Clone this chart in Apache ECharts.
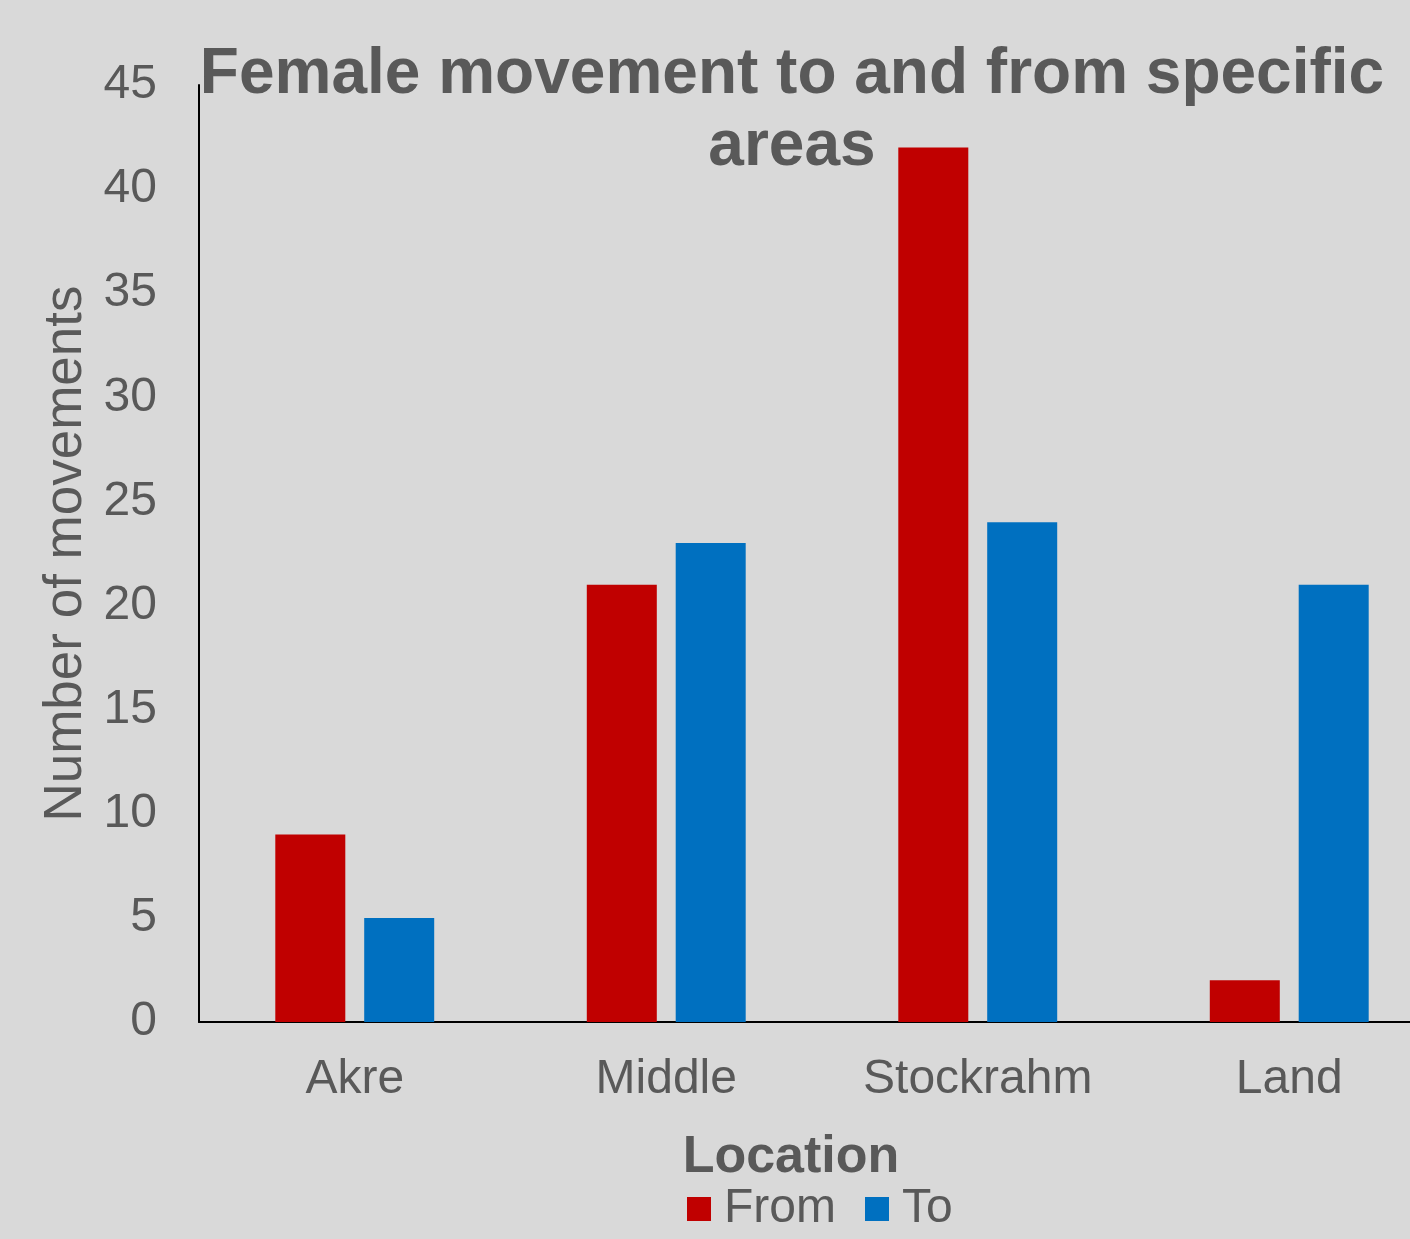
<!DOCTYPE html>
<html>
<head>
<meta charset="utf-8">
<script src="https://cdn.jsdelivr.net/npm/echarts@6/dist/echarts.min.js"></script>
<style>
  html, body { margin: 0; padding: 0; background: #d9d9d9; }
  #chart { width: 1410px; height: 1239px; }
</style>
</head>
<body>
<div id="chart"></div>
<script>
// Female movements per location, split by direction
const categories = ['Akre', 'Middle', 'Stockrahm', 'Land'];
const fromValues = [9, 21, 42, 2];
const toValues = [5, 23, 24, 21];
const yTicks = { min: 0, max: 45, interval: 5 };

const textColor = '#595959';
const fontFamily = '"Liberation Sans", Arial, sans-serif';

const chart = echarts.init(document.getElementById('chart'));
chart.setOption({
  backgroundColor: '#d9d9d9',
  animation: false,
  textStyle: { fontFamily: fontFamily, color: textColor },
  title: {
    text: 'Female movement to and from specific\nareas',
    left: 787,
    top: 34,
    textAlign: 'center',
    textStyle: {
      fontFamily: fontFamily,
      fontSize: 64,
      fontWeight: 'bold',
      color: textColor,
      lineHeight: 72
    }
  },
  legend: {
    left: 682,
    top: 1180,
    itemWidth: 24,
    itemHeight: 24,
    itemGap: 29,
    icon: 'rect',
    textStyle: { fontFamily: fontFamily, fontSize: 48, color: textColor, padding: [0, 0, 0, 8] },
    data: ['From', 'To']
  },
  grid: {
    left: 199,
    top: 85,
    bottom: 217,
    right: -35,
    containLabel: false,
    outerBoundsMode: 'none'
  },
  xAxis: {
    type: 'category',
    data: categories,
    name: 'Location',
    nameLocation: 'middle',
    nameGap: 110,
    nameTextStyle: {
      fontFamily: fontFamily,
      fontSize: 52,
      fontWeight: 'bold',
      color: textColor,
      padding: [0, 62, 0, 0]
    },
    axisLine: { show: true, lineStyle: { color: '#000', width: 2 } },
    axisTick: { show: false },
    axisLabel: { fontSize: 48, color: textColor, margin: 34, fontFamily: fontFamily },
    splitLine: { show: false }
  },
  yAxis: {
    type: 'value',
    min: yTicks.min,
    max: yTicks.max,
    interval: yTicks.interval,
    name: 'Number of movements',
    nameLocation: 'middle',
    nameGap: 104,
    nameTextStyle: { fontFamily: fontFamily, fontSize: 53, color: textColor },
    axisLine: { show: true, lineStyle: { color: '#000', width: 2 } },
    axisTick: { show: false },
    axisLabel: { fontSize: 48, color: textColor, margin: 42, fontFamily: fontFamily, padding: [4, 0, 0, 0] },
    splitLine: { show: false }
  },
  series: [
    {
      name: 'From',
      type: 'bar',
      data: fromValues,
      barWidth: 70,
      barGap: '27%',
      itemStyle: { color: '#c00000' }
    },
    {
      name: 'To',
      type: 'bar',
      data: toValues,
      barWidth: 70,
      barGap: '27%',
      itemStyle: { color: '#0070c0' }
    }
  ]
});
</script>
</body>
</html>
